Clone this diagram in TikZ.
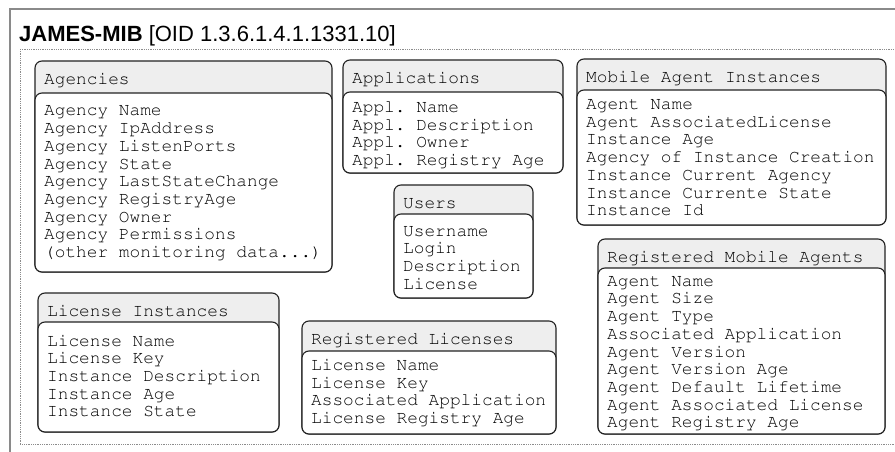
\documentclass[tikz,border=0pt]{standalone}
\usepackage[T1]{fontenc}
\usepackage{fontspec}
\setmainfont{Liberation Sans}

% Courier (URW) for the table texts
\newcommand\courierface{\fontencoding{T1}\fontfamily{pcr}\fontseries{m}\fontshape{n}}

\definecolor{framegray}{HTML}{8A8A8A}
\definecolor{dotgray}{HTML}{8C8C8C}
\definecolor{hdrgray}{HTML}{EEEEEE}
\definecolor{boxline}{HTML}{222222}

\tikzset{
  hdr/.style={draw=boxline, fill=hdrgray, rounded corners=7pt, line width=1.1pt},
  bodybox/.style={draw=boxline, fill=white, rounded corners=7pt, line width=1.1pt},
  field/.style={anchor=base west, inner sep=0pt,
    font=\courierface\fontsize{17.8}{20}\selectfont\frenchspacing, text=black},
  mibtitle/.style={anchor=base west, inner sep=0pt,
    font=\fontsize{22}{24}\selectfont},
  outerframe/.style={draw=framegray, line width=2.4pt},
  innerframe/.style={draw=dotgray, line width=0.9pt, dash pattern=on 0.9pt off 0.9pt},
}

% last field of the Agencies table (kept in a macro so the list parser
% does not read its dots as a range)
\newcommand\moredata{(other monitoring data...)}

% #1 id, #2 left, #3 top, #4 right, #5 body top, #6 bottom,
% #7 table name, #8 baseline of first field, #9 field list
\newcommand\mibtable[9]{%
  \draw[hdr] (#2,#3) rectangle (#4,#6);
  \draw[bodybox] (#2,#5) rectangle (#4,#6);
  \node[field] (#1-name) at ({#2+9},{#3+23.5}) {#7};
  \foreach \txt [count=\i from 0] in {#9} {
    \node[field] (#1-\i) at ({#2+9},{#8+\i*17.7}) {\txt};
  }%
}

\begin{document}
\begin{tikzpicture}[x=1pt, y=-1pt]
  \useasboundingbox (0,0) rectangle (895,452);
  \clip (0,0) rectangle (895,452);

  % module frame and its group area
  \draw[outerframe] (10,9) rectangle (930,490);
  \draw[innerframe] (20,49) rectangle (920,444.5);

  \node[mibtitle] (title) at (19,41.5)
    {\textbf{JAMES-MIB} [OID 1.3.6.1.4.1.1331.10]};

  \mibtable{ag}{35}{61}{332}{93}{272}{Agencies}{116}
    {Agency Name, Agency IpAddress, Agency ListenPorts, Agency State,
     Agency LastStateChange, Agency RegistryAge, Agency Owner,
     Agency Permissions, \moredata}

  \mibtable{app}{343}{60}{563}{92}{173}{Applications}{112.5}
    {Appl. Name, Appl. Description, Appl. Owner, Appl. Registry Age}

  \mibtable{mai}{577}{59}{886}{90}{225}{Mobile Agent Instances}{109.5}
    {Agent Name, Agent AssociatedLicense, Instance Age,
     Agency of Instance Creation, Instance Current Agency,
     Instance Currente State, Instance Id}

  \mibtable{usr}{394}{185}{533}{214}{298}{Users}{236}
    {Username, Login, Description, License}

  \mibtable{li}{38}{293}{279}{322}{432}{License Instances}{346}
    {License Name, License Key, Instance Description, Instance Age,
     Instance State}

  \mibtable{rl}{302}{321}{556}{351}{434}{Registered Licenses}{370.5}
    {License Name, License Key, Associated Application,
     License Registry Age}

  \mibtable{rma}{598}{239}{885}{268}{434}{Registered Mobile Agents}{286.2}
    {Agent Name, Agent Size, Agent Type, Associated Application,
     Agent Version, Agent Version Age, Agent Default Lifetime,
     Agent Associated License, Agent Registry Age}
\end{tikzpicture}
\end{document}
